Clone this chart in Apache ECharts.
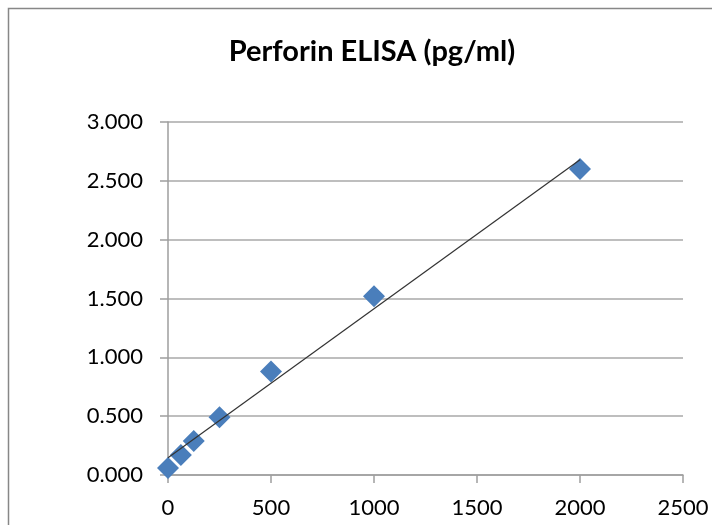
<!DOCTYPE html>
<html><head><meta charset="utf-8">
<script src="https://cdn.jsdelivr.net/npm/echarts@6/dist/echarts.min.js"></script>
<style>html,body{margin:0;padding:0;background:#fff}#c{width:712px;height:525px}</style>
</head><body><div id="c"></div>
<script>
const concentrations = [0, 62.5, 125, 250, 500, 1000, 2000];
const absorbances = [0.06, 0.17, 0.29, 0.49, 0.88, 1.52, 2.60];
const xTicks = [0, 500, 1000, 1500, 2000, 2500];
const yTicks = [0, 0.5, 1, 1.5, 2, 2.5, 3];

// linear least-squares trendline from the data
const n = concentrations.length;
const mx = concentrations.reduce((a, b) => a + b, 0) / n;
const my = absorbances.reduce((a, b) => a + b, 0) / n;
let sxy = 0, sxx = 0;
for (let i = 0; i < n; i++) { sxy += (concentrations[i] - mx) * (absorbances[i] - my); sxx += (concentrations[i] - mx) ** 2; }
const slope = sxy / sxx, intercept = my - slope * mx;
const xMin = Math.min(...concentrations), xMax = Math.max(...concentrations);
const trend = [[xMin, intercept + slope * xMin], [xMax, intercept + slope * xMax]];

const font = 'Lato, "Open Sans", sans-serif';
const chart = echarts.init(document.getElementById('c'));
chart.setOption({
  animation: false,
  graphic: [{ type: 'rect', shape: { x: 8.5, y: 8.5, width: 760, height: 560 }, style: { fill: 'none', stroke: '#878787', lineWidth: 1.5 }, silent: true }],
  title: { text: 'Perforin ELISA (pg/ml)', left: 367, top: 32, textAlign: 'center',
    textStyle: { fontFamily: font, fontWeight: 'bold', fontSize: 29, color: '#000' } },
  grid: { left: 168, right: 29, top: 122, bottom: 50, containLabel: false },
  xAxis: { type: 'value', min: xTicks[0], max: xTicks[xTicks.length - 1], interval: 500,
    axisLine: { show: true, onZero: false, lineStyle: { color: '#9e9e9e', width: 1.5 } },
    axisTick: { show: true, length: 8, lineStyle: { color: '#9e9e9e', width: 1.5 } },
    splitLine: { show: false },
    axisLabel: { fontFamily: font, fontSize: 22, color: '#000', margin: 22, formatter: v => String(v) } },
  yAxis: { type: 'value', min: yTicks[0], max: yTicks[yTicks.length - 1], interval: 0.5,
    axisLine: { show: true, lineStyle: { color: '#9e9e9e', width: 1.5 } },
    axisTick: { show: true, length: 8, lineStyle: { color: '#9e9e9e', width: 1.5 } },
    splitLine: { show: true, lineStyle: { color: '#a8a8a8', width: 1.5 } },
    axisLabel: { fontFamily: font, fontSize: 22, color: '#000', margin: 25,
      formatter: v => v.toFixed(3) } },
  series: [
    { type: 'scatter', data: concentrations.map((x, i) => [x, absorbances[i]]), symbol: 'diamond', symbolSize: [22, 22],
      itemStyle: { color: '#4a7ebb', opacity: 1 }, z: 2 },
    { type: 'line', data: trend, symbol: 'none', lineStyle: { color: '#333', width: 1.2 }, z: 3 }
  ]
});
</script></body></html>
